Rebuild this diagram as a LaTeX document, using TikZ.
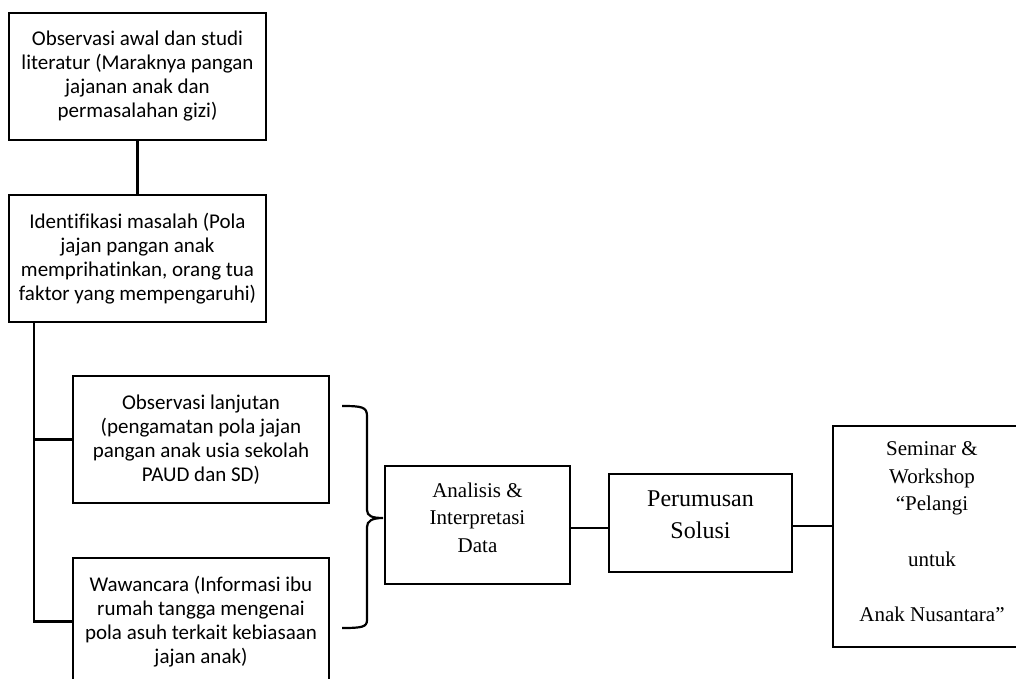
\documentclass[tikz,border=0pt]{standalone}
\usepackage{fontspec}
\setmainfont{Liberation Serif}
\newfontfamily\calib[Ligatures=NoCommon]{Carlito}
\begin{document}
\begin{tikzpicture}[x=1pt,y=-1pt,
  sansbox/.style={draw=black, line width=2.5pt, inner sep=0pt, align=center,
    font=\calib\fontsize{21}{24}\selectfont, minimum width=257pt, minimum height=127pt},
  plainbox/.style={draw=black, line width=2.5pt, inner sep=0pt},
  serif/.style={inner sep=0pt, align=center, anchor=north, font=\fontsize{21}{27.6}\selectfont},
  conn/.style={line width=2.3pt},
]
\useasboundingbox (0,0) rectangle (1016,679);

\node[sansbox] (b1) at (137.5,76.5) {Observasi awal dan studi\\literatur (Maraknya pangan\\jajanan anak dan\\permasalahan gizi)};
\node[sansbox] (b2) at (137.5,258.5) {Identifikasi masalah (Pola\\jajan pangan anak\\memprihatinkan, orang tua\\faktor yang mempengaruhi)};
\node[sansbox, minimum width=256pt] (b3) at (201,439.5) {Observasi lanjutan\\(pengamatan pola jajan\\pangan anak usia sekolah\\PAUD dan SD)};
\node[sansbox, minimum width=256pt] (b4) at (201,621.5) {Wawancara (Informasi ibu\\rumah tangga mengenai\\pola asuh terkait kebiasaan\\jajan anak)};

\node[plainbox, minimum width=185pt, minimum height=118pt] (ana) at (477.5,525) {};
\node[serif] (anat) at ([yshift=-17.7pt]ana.north) {Analisis \&\\Interpretasi\\Data};

\node[plainbox, minimum width=183pt, minimum height=98pt] (per) at (700.5,523) {};
\node[serif, font=\fontsize{24}{32}\selectfont] (pert) at ([yshift=-18pt]per.north) {Perumusan\\Solusi};

\node[plainbox, minimum width=198pt, minimum height=221pt] (sem) at (932,536.5) {};
\node[serif] (semt) at ([yshift=-16.8pt]sem.north) {Seminar \&\\Workshop\\“Pelangi\\[27.6pt]untuk\\[27.6pt]Anak Nusantara”};

\draw[conn] (b1.south) -- (b2.north);
\coordinate (tr) at ([xshift=26pt]b2.south west);
\draw[conn] (tr) |- (b3.west);
\draw[conn] (tr) |- (b4.west);
\draw[conn] ([yshift=-3pt]ana.east) -- ([yshift=-3pt]ana.east -| per.west);
\draw[conn] ([yshift=-3pt]per.east) -- ([yshift=-3pt]per.east -| sem.west);

\coordinate (tip) at (383,518);
\draw[line width=2.2pt] (342,406) .. controls (362,406) and (367,407) .. (367,416) -- (367,510)
  .. controls (367,516) and (372,518) .. (tip)
  .. controls (372,518) and (367,521) .. (367,527) -- (367,620)
  .. controls (367,627) and (362,628) .. (342,628);
\end{tikzpicture}
\end{document}
